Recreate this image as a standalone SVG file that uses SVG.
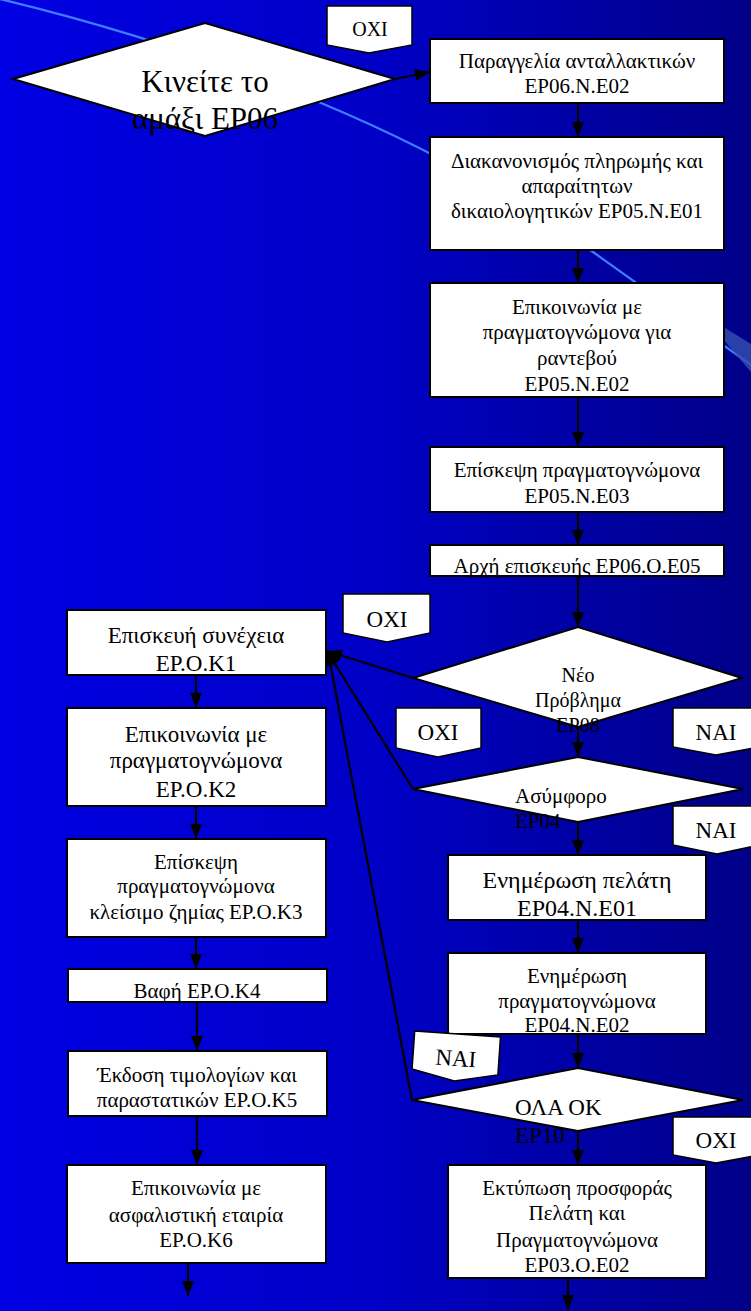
<svg xmlns="http://www.w3.org/2000/svg" width="751" height="1311" viewBox="0 0 751 1311">
<defs>
<linearGradient id="bg" x1="0" y1="0" x2="1" y2="0">
<stop offset="0" stop-color="#0000e4"/>
<stop offset="0.5" stop-color="#0000c6"/>
<stop offset="1" stop-color="#000088"/>
</linearGradient>
<marker id="ah" viewBox="0 0 10 10" refX="10" refY="5" markerWidth="15" markerHeight="12" markerUnits="userSpaceOnUse" orient="auto" preserveAspectRatio="none">
<path d="M0,0 L10,5 L0,10 Z" fill="#000"/>
</marker>
<style>
.box{fill:#fff;stroke:#000;stroke-width:2}
.lbl{fill:#fff;stroke:#000;stroke-width:1.5}
.t{fill:#000;text-anchor:middle}
.tl{fill:#000;text-anchor:start}
.c{fill:none;stroke:#000;stroke-width:2.2;marker-end:url(#ah)}
</style>
</defs>
<rect width="751" height="1311" fill="url(#bg)"/>
<g id="decor">
<path d="M0,-1 Q170,40 321,103 T593,252 T800,400" fill="none" stroke="#3f7cff" stroke-width="2.2"/>
<polygon points="722,326 751,344 751,372 722,338" fill="#3550b0" opacity="0.8"/>
</g>

<g id="connectors">
<line class="c" x1="395" y1="79" x2="430" y2="72"/>
<line class="c" x1="578" y1="103" x2="578" y2="137"/>
<line class="c" x1="578" y1="250" x2="578" y2="283"/>
<line class="c" x1="578" y1="397" x2="578" y2="447"/>
<line class="c" x1="578" y1="512" x2="578" y2="545"/>
<line class="c" x1="578" y1="576" x2="578" y2="627"/>
<line class="c" x1="578" y1="727" x2="578" y2="757"/>
<line class="c" x1="578" y1="822" x2="578" y2="855"/>
<line class="c" x1="578" y1="920" x2="578" y2="953"/>
<line class="c" x1="578" y1="1034" x2="578" y2="1068"/>
<line class="c" x1="578" y1="1131" x2="578" y2="1165"/>
<line class="c" x1="568" y1="1278" x2="568" y2="1310"/>
<line class="c" x1="196" y1="675" x2="196" y2="708"/>
<line class="c" x1="196" y1="806" x2="196" y2="839"/>
<line class="c" x1="196" y1="937" x2="196" y2="969"/>
<line class="c" x1="197" y1="1002" x2="197" y2="1051"/>
<line class="c" x1="197" y1="1116" x2="197" y2="1165"/>
<line class="c" x1="188" y1="1263" x2="188" y2="1296"/>
<line class="c" x1="413" y1="678" x2="327" y2="651"/>
<line class="c" x1="413" y1="789" x2="327" y2="651"/>
<line class="c" x1="412" y1="1100" x2="328" y2="651"/>
</g>

<g font-family="Liberation Serif, serif">
<g id="n_kineite">
<polygon class="box" points="13,79 205,23 395,79 205,136"/>
<text class="t" font-size="31" x="205" y="92">Κινείτε το</text>
<text class="t" font-size="31" x="205" y="129">αμάξι ΕΡ06</text>
</g>
<g id="l_oxi_top">
<path class="lbl" d="M327,6 H412 V45 L369,53 L327,45 Z"/>
<text class="t" font-size="20" x="370" y="36">ΟΧΙ</text>
</g>
<g id="n_paraggelia">
<rect class="box" x="430" y="39" width="294" height="64"/>
<text class="t" font-size="21" x="577" y="68">Παραγγελία ανταλλακτικών</text>
<text class="t" font-size="21" x="577" y="93">ΕΡ06.Ν.Ε02</text>
</g>
<g id="n_diakanonismos">
<rect class="box" x="430" y="137" width="294" height="113"/>
<text class="t" font-size="21" x="577" y="168">Διακανονισμός πληρωμής και</text>
<text class="t" font-size="21" x="577" y="193">απαραίτητων</text>
<text class="t" font-size="21" x="577" y="218">δικαιολογητικών ΕΡ05.Ν.Ε01</text>
</g>
<g id="n_epikoinonia1">
<rect class="box" x="430" y="283" width="294" height="114"/>
<text class="t" font-size="21" x="577" y="314">Επικοινωνία με</text>
<text class="t" font-size="21" x="577" y="339">πραγματογνώμονα για</text>
<text class="t" font-size="21" x="577" y="365">ραντεβού</text>
<text class="t" font-size="21" x="577" y="391">ΕΡ05.Ν.Ε02</text>
</g>
<g id="n_episkepsi1">
<rect class="box" x="430" y="447" width="294" height="65"/>
<text class="t" font-size="21" x="577" y="477">Επίσκεψη πραγματογνώμονα</text>
<text class="t" font-size="21" x="577" y="503">ΕΡ05.Ν.Ε03</text>
</g>
<g id="n_arxi">
<rect class="box" x="430" y="545" width="294" height="31"/>
<text class="t" font-size="21" x="577" y="573">Αρχή επισκευής ΕΡ06.Ο.Ε05</text>
</g>
<g id="n_neo">
<polygon class="box" points="413,678 578,627 742,678 578,727"/>
<text class="t" font-size="20" x="578" y="682">Νέο</text>
<text class="t" font-size="20" x="578" y="707">Πρόβλημα</text>
<text class="t" font-size="20" x="578" y="732">ΕΡ08</text>
</g>
<g id="l_oxi_neo">
<path class="lbl" d="M343,594 H430 V633 L387,642 L343,633 Z"/>
<text class="t" font-size="23" x="387" y="627">ΟΧΙ</text>
</g>
<g id="l_oxi_asym">
<path class="lbl" d="M396,708 H481 V748 L438,757 L396,748 Z"/>
<text class="t" font-size="23" x="438" y="740">ΟΧΙ</text>
</g>
<g id="l_nai_neo">
<path class="lbl" d="M673,708 H760 V747 L716,755 L673,747 Z"/>
<text class="t" font-size="23" x="716" y="740">ΝΑΙ</text>
</g>
<g id="n_asymforo">
<polygon class="box" points="413,789 578,757 743,789 578,822"/>
<text class="tl" font-size="21" x="515" y="803">Ασύμφορο</text>
<text class="tl" font-size="21" x="515" y="828">ΕΡ04</text>
</g>
<g id="l_nai_asym">
<path class="lbl" d="M673,806 H760 V845 L717,854 L673,845 Z"/>
<text class="t" font-size="23" x="716" y="838">ΝΑΙ</text>
</g>
<g id="n_enimerosi_pelati">
<rect class="box" x="448" y="855" width="258" height="65"/>
<text class="t" font-size="24" x="577" y="888">Ενημέρωση πελάτη</text>
<text class="t" font-size="24" x="577" y="916">ΕΡ04.Ν.Ε01</text>
</g>
<g id="n_enimerosi_pragm">
<rect class="box" x="448" y="953" width="258" height="81"/>
<text class="t" font-size="21" x="577" y="983">Ενημέρωση</text>
<text class="t" font-size="21" x="577" y="1008">πραγματογνώμονα</text>
<text class="t" font-size="21" x="577" y="1032">ΕΡ04.Ν.Ε02</text>
</g>
<g id="l_nai_ola" transform="rotate(4 456 1057)">
<path class="lbl" d="M413,1034 H499 V1072 L456,1081 L413,1072 Z"/>
<text class="t" font-size="23" x="456" y="1066">ΝΑΙ</text>
</g>
<g id="n_ola_ok">
<polygon class="box" points="412,1100 578,1068 743,1100 578,1131"/>
<text class="tl" font-size="23" x="515" y="1115">ΟΛΑ ΟΚ</text>
<text class="tl" font-size="23" x="515" y="1143">ΕΡ10</text>
</g>
<g id="l_oxi_ola">
<path class="lbl" d="M673,1117 H760 V1155 L716,1163 L673,1155 Z"/>
<text class="t" font-size="23" x="716" y="1148">ΟΧΙ</text>
</g>
<g id="n_ektyposi">
<rect class="box" x="448" y="1165" width="258" height="113"/>
<text class="t" font-size="21" x="577" y="1195">Εκτύπωση προσφοράς</text>
<text class="t" font-size="21" x="577" y="1220">Πελάτη και</text>
<text class="t" font-size="21" x="577" y="1247">Πραγματογνώμονα</text>
<text class="t" font-size="21" x="577" y="1272">ΕΡ03.Ο.Ε02</text>
</g>
<g id="n_episkevi">
<rect class="box" x="67" y="610" width="259" height="65"/>
<text class="t" font-size="23" x="196" y="643">Επισκευή συνέχεια</text>
<text class="t" font-size="23" x="196" y="671">ΕΡ.Ο.Κ1</text>
</g>
<g id="n_epikoinonia2">
<rect class="box" x="67" y="708" width="259" height="98"/>
<text class="t" font-size="23" x="196" y="742">Επικοινωνία με</text>
<text class="t" font-size="23" x="196" y="768">πραγματογνώμονα</text>
<text class="t" font-size="23" x="196" y="797">ΕΡ.Ο.Κ2</text>
</g>
<g id="n_episkepsi2">
<rect class="box" x="67" y="839" width="259" height="98"/>
<text class="t" font-size="21" x="196" y="869">Επίσκεψη</text>
<text class="t" font-size="21" x="196" y="893">πραγματογνώμονα</text>
<text class="t" font-size="21" x="196" y="919">κλείσιμο ζημίας ΕΡ.Ο.Κ3</text>
</g>
<g id="n_vafi">
<rect class="box" x="68" y="969" width="259" height="33"/>
<text class="t" font-size="21" x="197" y="998">Βαφή ΕΡ.Ο.Κ4</text>
</g>
<g id="n_ekdosi">
<rect class="box" x="68" y="1051" width="259" height="65"/>
<text class="t" font-size="21" x="197" y="1082">Έκδοση τιμολογίων και</text>
<text class="t" font-size="21" x="197" y="1107">παραστατικών ΕΡ.Ο.Κ5</text>
</g>
<g id="n_epikoinonia3">
<rect class="box" x="67" y="1165" width="259" height="98"/>
<text class="t" font-size="21" x="196" y="1195">Επικοινωνία με</text>
<text class="t" font-size="21" x="196" y="1222">ασφαλιστική εταιρία</text>
<text class="t" font-size="21" x="196" y="1247">ΕΡ.Ο.Κ6</text>
</g>
</g>
</svg>
